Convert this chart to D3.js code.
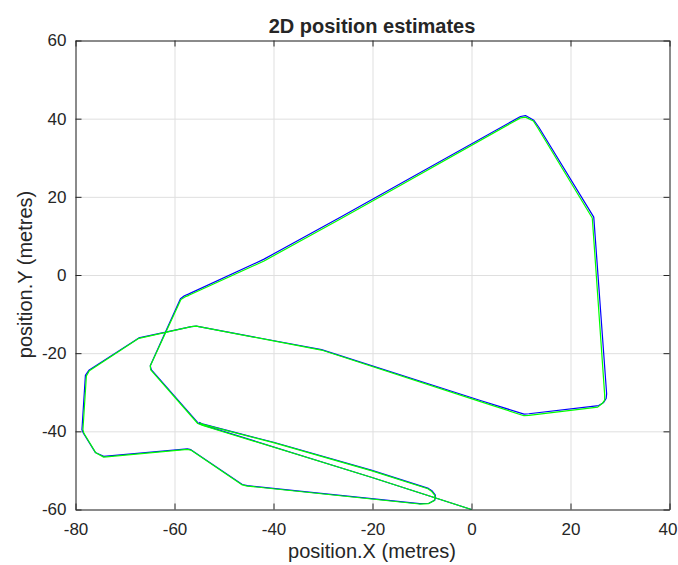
<html>
<head>
  <meta charset="utf-8">
  <script src="https://d3js.org/d3.v7.min.js"></script>
  <style>
    body { margin: 0; background: #fff; }
    text { font-family: "Liberation Sans", Arial, sans-serif; fill: #262626; }
    .grid line { stroke: #dfdfdf; stroke-width: 1; }
    .grid .domain { stroke: none; }
  </style>
</head>
<body>
  <svg id="chart" width="678" height="565"></svg>
  <script>
    // true track (blue)
    const trueX = [0, -20.1, -54.2, -55.2, -64.7, -64.9, -58.8, -58.0, -57.2, -42.0, -26.5, -20.0, 9.9, 10.9, 12.6, 13.6, 24.7, 27.3, 27.2, 26.7, 25.7, 11.6, 10.6, 1.8, -30.3, -55.6, -56.6, -67.2, -77.3, -78.0, -78.7, -78.4, -76.0, -74.3, -57.4, -56.7, -46.3, -45.3, -10.5, -8.6, -7.4, -7.3, -8.0, -8.7, -20.1, -40.0, -54.4, -55.0];
    const trueY = [-60, -51.8, -38.4, -37.9, -24.2, -23.2, -6.1, -5.3, -4.9, 4.0, 14.8, 19.4, 40.55, 40.8, 39.6, 37.8, 14.8, -30.4, -31.6, -32.6, -33.4, -35.5, -35.6, -32.1, -19.1, -13.1, -13.2, -16.1, -24.4, -25.7, -39.6, -40.5, -45.4, -46.4, -44.5, -44.7, -53.6, -53.9, -58.5, -58.4, -57.6, -56.3, -55.2, -54.6, -50.0, -42.8, -38.1, -37.7];
    // estimated track (green)
    const estX = [0, -20.1, -54.3, -55.3, -64.8, -64.9, -58.7, -57.9, -57.1, -41.9, -26.4, -19.9, 9.9, 10.9, 12.5, 13.4, 24.4, 26.9, 26.9, 26.4, 25.5, 11.6, 10.6, 1.8, -30.3, -55.6, -56.6, -67.2, -77.2, -77.8, -78.5, -78.3, -75.9, -74.3, -57.4, -56.7, -46.3, -45.3, -10.5, -8.7, -7.5, -7.4, -8.1, -8.8, -20.1, -40.0, -54.3, -54.9];
    const estY = [-60, -51.8, -38.5, -38.0, -24.3, -23.3, -6.3, -5.6, -5.2, 3.6, 14.4, 19.0, 40.2, 40.4, 39.4, 37.6, 14.6, -30.6, -32.0, -32.9, -33.8, -35.9, -36.0, -32.4, -19.2, -13.1, -13.2, -16.2, -24.5, -25.8, -39.6, -40.5, -45.5, -46.6, -44.6, -44.8, -53.7, -54.0, -58.6, -58.5, -57.7, -56.4, -55.3, -54.7, -50.1, -42.9, -38.2, -37.8];

    const xTicks = [-80, -60, -40, -20, 0, 20, 40];
    const yTicks = [-60, -40, -20, 0, 20, 40, 60];

    const svg = d3.select("#chart");
    const margin = { top: 40, right: 9, bottom: 56, left: 75 };
    const chartWidth = 678 - margin.left - margin.right;   // 594
    const chartHeight = 565 - margin.top - margin.bottom;  // 469

    const xScale = d3.scaleLinear().domain([-80, 40]).range([0, chartWidth]);
    const yScale = d3.scaleLinear().domain([-60, 60]).range([chartHeight, 0]);
    const fmt = d => String(d);

    const g = svg.append("g")
      .attr("transform", `translate(${margin.left + 0.5},${margin.top + 0.5})`);

    // grid
    g.append("g").attr("class", "grid")
      .attr("transform", `translate(0,${chartHeight})`)
      .call(d3.axisBottom(xScale).tickValues(xTicks).tickSize(-chartHeight).tickFormat(""));
    g.append("g").attr("class", "grid")
      .call(d3.axisLeft(yScale).tickValues(yTicks).tickSize(-chartWidth).tickFormat(""));

    // tracks
    const trueData = trueX.map((x, i) => [x, trueY[i]]);
    const estData = estX.map((x, i) => [x, estY[i]]);
    const line = d3.line().x(d => xScale(d[0])).y(d => yScale(d[1]));
    const tracks = g.append("g");
    tracks.append("path").attr("d", line(trueData))
      .style("fill", "none").style("stroke", "#0000ff").style("stroke-width", 1.2)
      .style("stroke-linejoin", "round");
    tracks.append("path").attr("d", line(estData))
      .style("fill", "none").style("stroke", "#00ff00").style("stroke-width", 1.2)
      .style("stroke-linejoin", "round");

    // box and inward ticks
    const tickLen = 6;
    const axes = g.append("g");
    const xAxisG = axes.append("g").attr("transform", `translate(0,${chartHeight})`)
      .call(d3.axisBottom(xScale).tickValues(xTicks).tickFormat(fmt).tickSizeInner(-tickLen).tickSizeOuter(0).tickPadding(13));
    axes.append("g")
      .call(d3.axisTop(xScale).tickValues(xTicks).tickSizeInner(-tickLen).tickSizeOuter(0).tickFormat(""));
    axes.append("g")
      .call(d3.axisLeft(yScale).tickValues(yTicks).tickFormat(fmt).tickSizeInner(-tickLen).tickSizeOuter(0).tickPadding(9));
    axes.append("g").attr("transform", `translate(${chartWidth},0)`)
      .call(d3.axisRight(yScale).tickValues(yTicks).tickSizeInner(-tickLen).tickSizeOuter(0).tickFormat(""));
    axes.selectAll(".domain").style("stroke", "#262626");
    axes.selectAll(".tick line").style("stroke", "#262626");
    axes.selectAll(".tick text").style("fill", "#262626")
      .style("font-size", "17px")
      .style("font-family", "'Liberation Sans', Arial, sans-serif");
    xAxisG.selectAll(".tick text").filter(d => d === 40).attr("dx", -2);

    // labels
    svg.append("text")
      .attr("x", margin.left + chartWidth / 2).attr("y", 33)
      .attr("text-anchor", "middle")
      .style("font-size", "20px").style("font-weight", "bold")
      .text("2D position estimates");
    svg.append("text")
      .attr("x", margin.left + chartWidth / 2).attr("y", 558)
      .attr("text-anchor", "middle")
      .style("font-size", "20px")
      .text("position.X (metres)");
    svg.append("text")
      .attr("transform", `translate(32,${margin.top + chartHeight / 2}) rotate(-90)`)
      .attr("text-anchor", "middle")
      .style("font-size", "20px")
      .text("position.Y (metres)");
  </script>
</body>
</html>
